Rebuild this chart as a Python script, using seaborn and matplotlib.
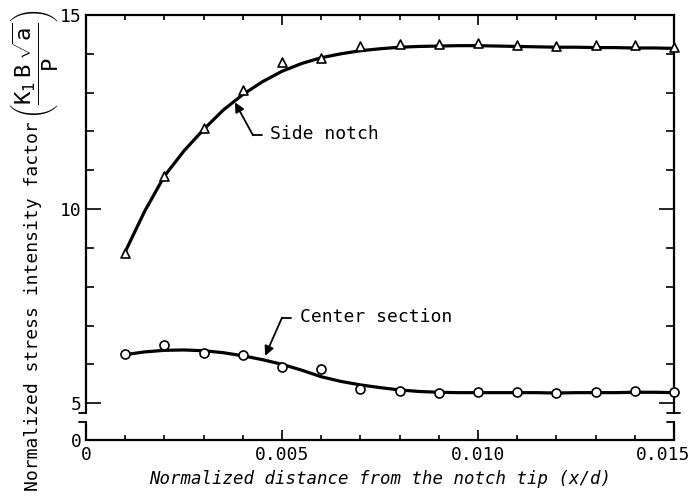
import numpy as np
import pandas as pd
import matplotlib
matplotlib.use('Agg')
import matplotlib.pyplot as plt
import matplotlib.transforms as mtransforms
import seaborn as sns
from matplotlib.ticker import FixedLocator, FixedFormatter, MultipleLocator

# measured points, normalized distance x/d
x_pts = [0.001, 0.002, 0.003, 0.004, 0.005, 0.006, 0.007, 0.008,
         0.009, 0.010, 0.011, 0.012, 0.013, 0.014, 0.015]
side_pts = [8.87, 10.85, 12.09, 13.07, 13.78, 13.89, 14.20, 14.25,
            14.25, 14.27, 14.23, 14.21, 14.22, 14.22, 14.18]
center_pts = [6.26, 6.49, 6.29, 6.24, 5.93, 5.88, 5.36, 5.31,
              5.27, 5.28, 5.28, 5.27, 5.28, 5.31, 5.28]

# faired curves, every 0.0005
x_fit = [0.001, 0.0015, 0.002, 0.0025, 0.003, 0.0035, 0.004, 0.0045,
         0.005, 0.0055, 0.006, 0.0065, 0.007, 0.0075, 0.008, 0.0085,
         0.009, 0.0095, 0.010, 0.0105, 0.011, 0.0115, 0.012, 0.0125,
         0.013, 0.0135, 0.014, 0.0145, 0.015]
side_fit = [8.90, 9.95, 10.85, 11.50, 12.05, 12.55, 12.95, 13.28,
            13.55, 13.75, 13.90, 14.00, 14.08, 14.13, 14.17, 14.19,
            14.20, 14.21, 14.21, 14.20, 14.19, 14.18, 14.17, 14.17,
            14.16, 14.16, 14.15, 14.15, 14.14]
center_fit = [6.25, 6.32, 6.36, 6.37, 6.35, 6.30, 6.22, 6.12,
              6.00, 5.85, 5.68, 5.56, 5.47, 5.40, 5.34, 5.30,
              5.28, 5.27, 5.27, 5.27, 5.27, 5.27, 5.26, 5.27,
              5.27, 5.27, 5.28, 5.28, 5.27]

y_major = [0, 5, 10, 15]
y_minor = [6, 7, 8, 9, 11, 12, 13, 14]
x_major = [0, 0.005, 0.010, 0.015]
x_labels = ['0', '0.005', '0.010', '0.015']

BREAK = 5.0
SQUEEZE = 0.19  # the 0-5 band is squashed below the break


def fwd(y):
    y = np.asarray(y, dtype=float)
    return np.where(y >= BREAK, y, BREAK - (BREAK - y) * SQUEEZE)


def inv(z):
    z = np.asarray(z, dtype=float)
    return np.where(z >= BREAK, z, BREAK - (BREAK - z) / SQUEEZE)


sns.set_theme(style='ticks')
plt.rcParams['font.family'] = ['DejaVu Sans Mono', 'DejaVu Sans']
plt.rcParams['mathtext.fontset'] = 'custom'
plt.rcParams['mathtext.rm'] = 'DejaVu Sans Mono'
plt.rcParams['mathtext.it'] = 'DejaVu Sans Mono'

fit = pd.DataFrame({'x': x_fit, 'side': side_fit, 'center': center_fit})
pts = pd.DataFrame({'x': x_pts, 'side': side_pts, 'center': center_pts})

fig = plt.figure(figsize=(6.91, 4.99), dpi=100)
ax = fig.add_axes([86 / 691, 59 / 499, 588 / 691, 425 / 499])
ax.set_yscale('function', functions=(fwd, inv))

sns.lineplot(data=fit, x='x', y='side', ax=ax, color='black', lw=2.3, zorder=2)
sns.lineplot(data=fit, x='x', y='center', ax=ax, color='black', lw=2.3, zorder=2)
sns.scatterplot(data=pts, x='x', y='side', ax=ax, marker='^', s=42,
                facecolor='white', edgecolor='black', linewidth=1.2, zorder=3, clip_on=False)
sns.scatterplot(data=pts, x='x', y='center', ax=ax, marker='o', s=42,
                facecolor='white', edgecolor='black', linewidth=1.2, zorder=3, clip_on=False)

ax.set_xlim(0, 0.015)
ax.set_ylim(0, 15)

ax.xaxis.set_major_locator(FixedLocator(x_major))
ax.xaxis.set_major_formatter(FixedFormatter(x_labels))
ax.xaxis.set_minor_locator(MultipleLocator(0.001))
ax.yaxis.set_major_locator(FixedLocator(y_major))
ax.yaxis.set_major_formatter(FixedFormatter([str(v) for v in y_major]))
ax.yaxis.set_minor_locator(FixedLocator(y_minor))

ax.tick_params(axis='both', which='both', direction='in', colors='black',
               labelsize=13, width=1.2, top=True, right=True)
ax.tick_params(axis='x', which='major', length=7, pad=4)
ax.tick_params(axis='x', which='minor', length=3.6)
ax.tick_params(axis='y', which='major', length=10.5, pad=3)
ax.tick_params(axis='y', which='minor', length=5.8)

# last x label sits a little left of its tick, as in the original
shift = mtransforms.ScaledTranslation(-11 / 100, 0, fig.dpi_scale_trans)
last = ax.get_xticklabels()[-1]
last.set_transform(last.get_transform() + shift)

# spines: draw the side ones by hand so they can show the axis break
for side in ('left', 'right'):
    ax.spines[side].set_visible(False)
for side in ('top', 'bottom'):
    ax.spines[side].set_linewidth(1.6)
    ax.spines[side].set_color('black')

lo, hi = 0.042, 0.0635
for xs in (0, 1):
    ax.plot([xs, xs], [0, lo], transform=ax.transAxes, color='black', lw=1.6, clip_on=False)
    ax.plot([xs, xs], [hi, 1], transform=ax.transAxes, color='black', lw=1.6, clip_on=False)
dx = 7 / 588
ax.plot([-dx, 0], [hi, hi], transform=ax.transAxes, color='black', lw=1.3, clip_on=False)
ax.plot([-dx, 0], [lo, lo], transform=ax.transAxes, color='black', lw=1.3, clip_on=False)
ax.plot([1 - dx, 1 + dx * 0.8], [hi, hi], transform=ax.transAxes, color='black', lw=1.3, clip_on=False)
ax.plot([1 - dx, 1], [lo, lo], transform=ax.transAxes, color='black', lw=1.3, clip_on=False)

ax.set_xlabel('Normalized distance from the notch tip (x/d)', fontsize=12.5,
              style='italic', color='black', labelpad=5)
ax.set_ylabel('Normalized stress intensity factor', fontsize=13, color='black')
ax.yaxis.set_label_coords(-0.075, 0.315)
# the quantity in brackets, set larger above the label text
fig.text(35 / 691, 1 - 64 / 499, r'$\left(\dfrac{K_1\ B\ \sqrt{a}}{P}\right)$',
         rotation=90, fontsize=16, ha='center', va='center', color='black')

# callouts
ax.annotate('', xy=(0.0038, 12.75), xytext=(0.00426, 11.9),
            arrowprops=dict(arrowstyle='-|>', color='black', lw=1.3,
                            mutation_scale=14, shrinkA=0, shrinkB=0))
ax.plot([0.00426, 0.00449], [11.9, 11.9], color='black', lw=1.3)
ax.text(0.00469, 11.93, 'Side notch', fontsize=13, va='center', ha='left', color='black')

ax.annotate('', xy=(0.00457, 6.22), xytext=(0.00500, 7.2),
            arrowprops=dict(arrowstyle='-|>', color='black', lw=1.3,
                            mutation_scale=14, shrinkA=0, shrinkB=0))
ax.plot([0.00500, 0.00522], [7.2, 7.2], color='black', lw=1.3)
ax.text(0.00546, 7.22, 'Center section', fontsize=13, va='center', ha='left', color='black')

fig.savefig('out.png', dpi=100, facecolor='white')
